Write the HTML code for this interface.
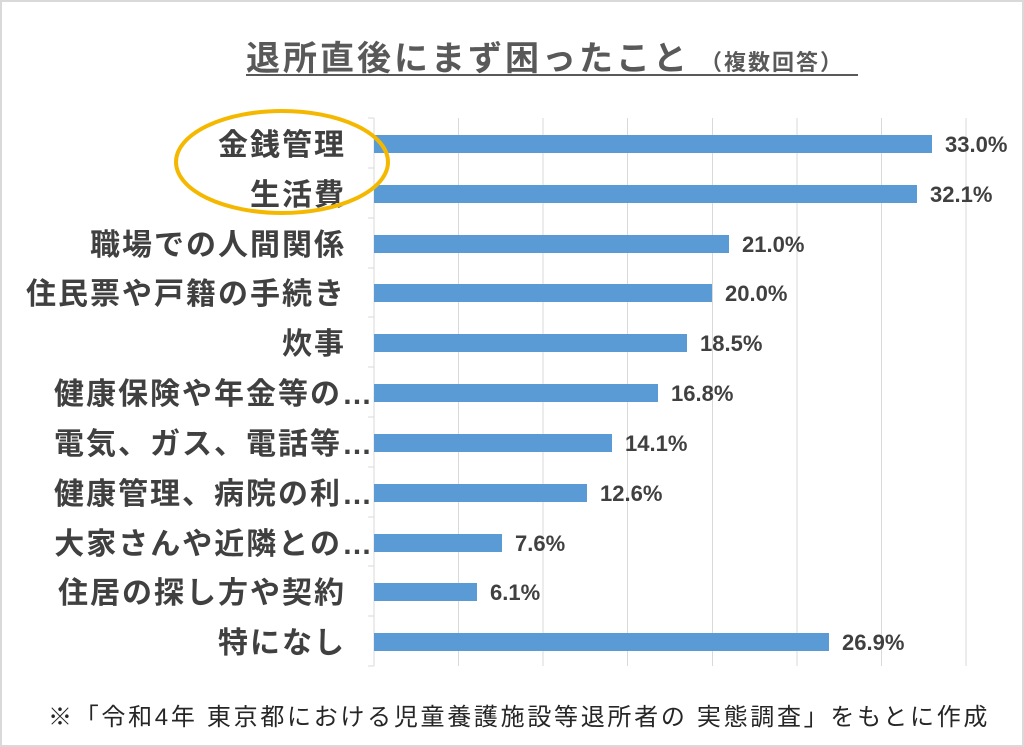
<!DOCTYPE html>
<html><head><meta charset="utf-8"><style>
body{margin:0;background:#fff}
.wrap{position:relative;width:1020px;height:743px;border:2px solid #d9d9d9;overflow:hidden;font-family:"Liberation Sans","Noto Sans CJK JP",sans-serif}
</style></head><body><div class="wrap">
<svg width="1020" height="743" viewBox="2 2 1020 743" xmlns="http://www.w3.org/2000/svg" font-family="Liberation Sans, Noto Sans CJK JP, sans-serif">
<text x="246" y="70" font-size="34" font-weight="bold" letter-spacing="3" fill="#595959">退所直後にまず困ったこと</text>
<text x="700" y="70" font-size="22" font-weight="bold" letter-spacing="2" fill="#595959">（複数回答）</text>
<line x1="246" y1="75" x2="858" y2="75" stroke="#595959" stroke-width="2"/>
<g stroke="#d9d9d9" stroke-width="1">
<line x1="458.5" y1="118" x2="458.5" y2="666"/><line x1="543" y1="118" x2="543" y2="666"/>
<line x1="627.5" y1="118" x2="627.5" y2="666"/><line x1="712.5" y1="118" x2="712.5" y2="666"/>
<line x1="797" y1="118" x2="797" y2="666"/><line x1="881.5" y1="118" x2="881.5" y2="666"/>
<line x1="966" y1="118" x2="966" y2="666"/>
<line x1="374" y1="118" x2="374" y2="666"/>
<line x1="368" y1="118" x2="374" y2="118"/><line x1="368" y1="168" x2="374" y2="168"/>
<line x1="368" y1="218" x2="374" y2="218"/><line x1="368" y1="268" x2="374" y2="268"/>
<line x1="368" y1="317" x2="374" y2="317"/><line x1="368" y1="367" x2="374" y2="367"/>
<line x1="368" y1="417" x2="374" y2="417"/><line x1="368" y1="467" x2="374" y2="467"/>
<line x1="368" y1="517" x2="374" y2="517"/><line x1="368" y1="566" x2="374" y2="566"/>
<line x1="368" y1="616" x2="374" y2="616"/><line x1="368" y1="666" x2="374" y2="666"/>
</g>
<g fill="#5b9bd5">
<rect x="374" y="135" width="558" height="18"/>
<rect x="374" y="185" width="543" height="18"/>
<rect x="374" y="235" width="355" height="18"/>
<rect x="374" y="284" width="338" height="18"/>
<rect x="374" y="334" width="313" height="18"/>
<rect x="374" y="384" width="284" height="18"/>
<rect x="374" y="434" width="238" height="18"/>
<rect x="374" y="484" width="213" height="18"/>
<rect x="374" y="534" width="128" height="18"/>
<rect x="374" y="583" width="103" height="18"/>
<rect x="374" y="633" width="455" height="18"/>
</g>
<g font-size="22" font-weight="bold" fill="#404040">
<text x="945" y="152">33.0%</text><text x="930" y="202">32.1%</text>
<text x="742" y="252">21.0%</text><text x="725" y="301">20.0%</text>
<text x="700" y="351">18.5%</text><text x="671" y="401">16.8%</text>
<text x="625" y="451">14.1%</text><text x="600" y="501">12.6%</text>
<text x="515" y="551">7.6%</text><text x="490" y="600">6.1%</text>
<text x="842" y="650">26.9%</text>
</g>
<g font-size="30" font-weight="bold" fill="#404040" text-anchor="end" letter-spacing="2">
<text x="346" y="155">金銭管理</text><text x="346" y="205">生活費</text>
<text x="346" y="255">職場での人間関係</text><text x="346" y="304">住民票や戸籍の手続き</text>
<text x="346" y="354">炊事</text><text x="374" y="404">健康保険や年金等の…</text>
<text x="374" y="454">電気、ガス、電話等…</text><text x="374" y="504">健康管理、病院の利…</text>
<text x="374" y="554">大家さんや近隣との…</text><text x="346" y="603">住居の探し方や契約</text>
<text x="346" y="653">特になし</text>
</g>
<ellipse cx="282" cy="162" rx="106" ry="51" fill="none" stroke="#f5b800" stroke-width="4"/>
<text x="48" y="725" font-size="24" letter-spacing="2.7" fill="#262626">※「令和4年 東京都における児童養護施設等退所者の 実態調査」をもとに作成</text>
</svg></div></body></html>
